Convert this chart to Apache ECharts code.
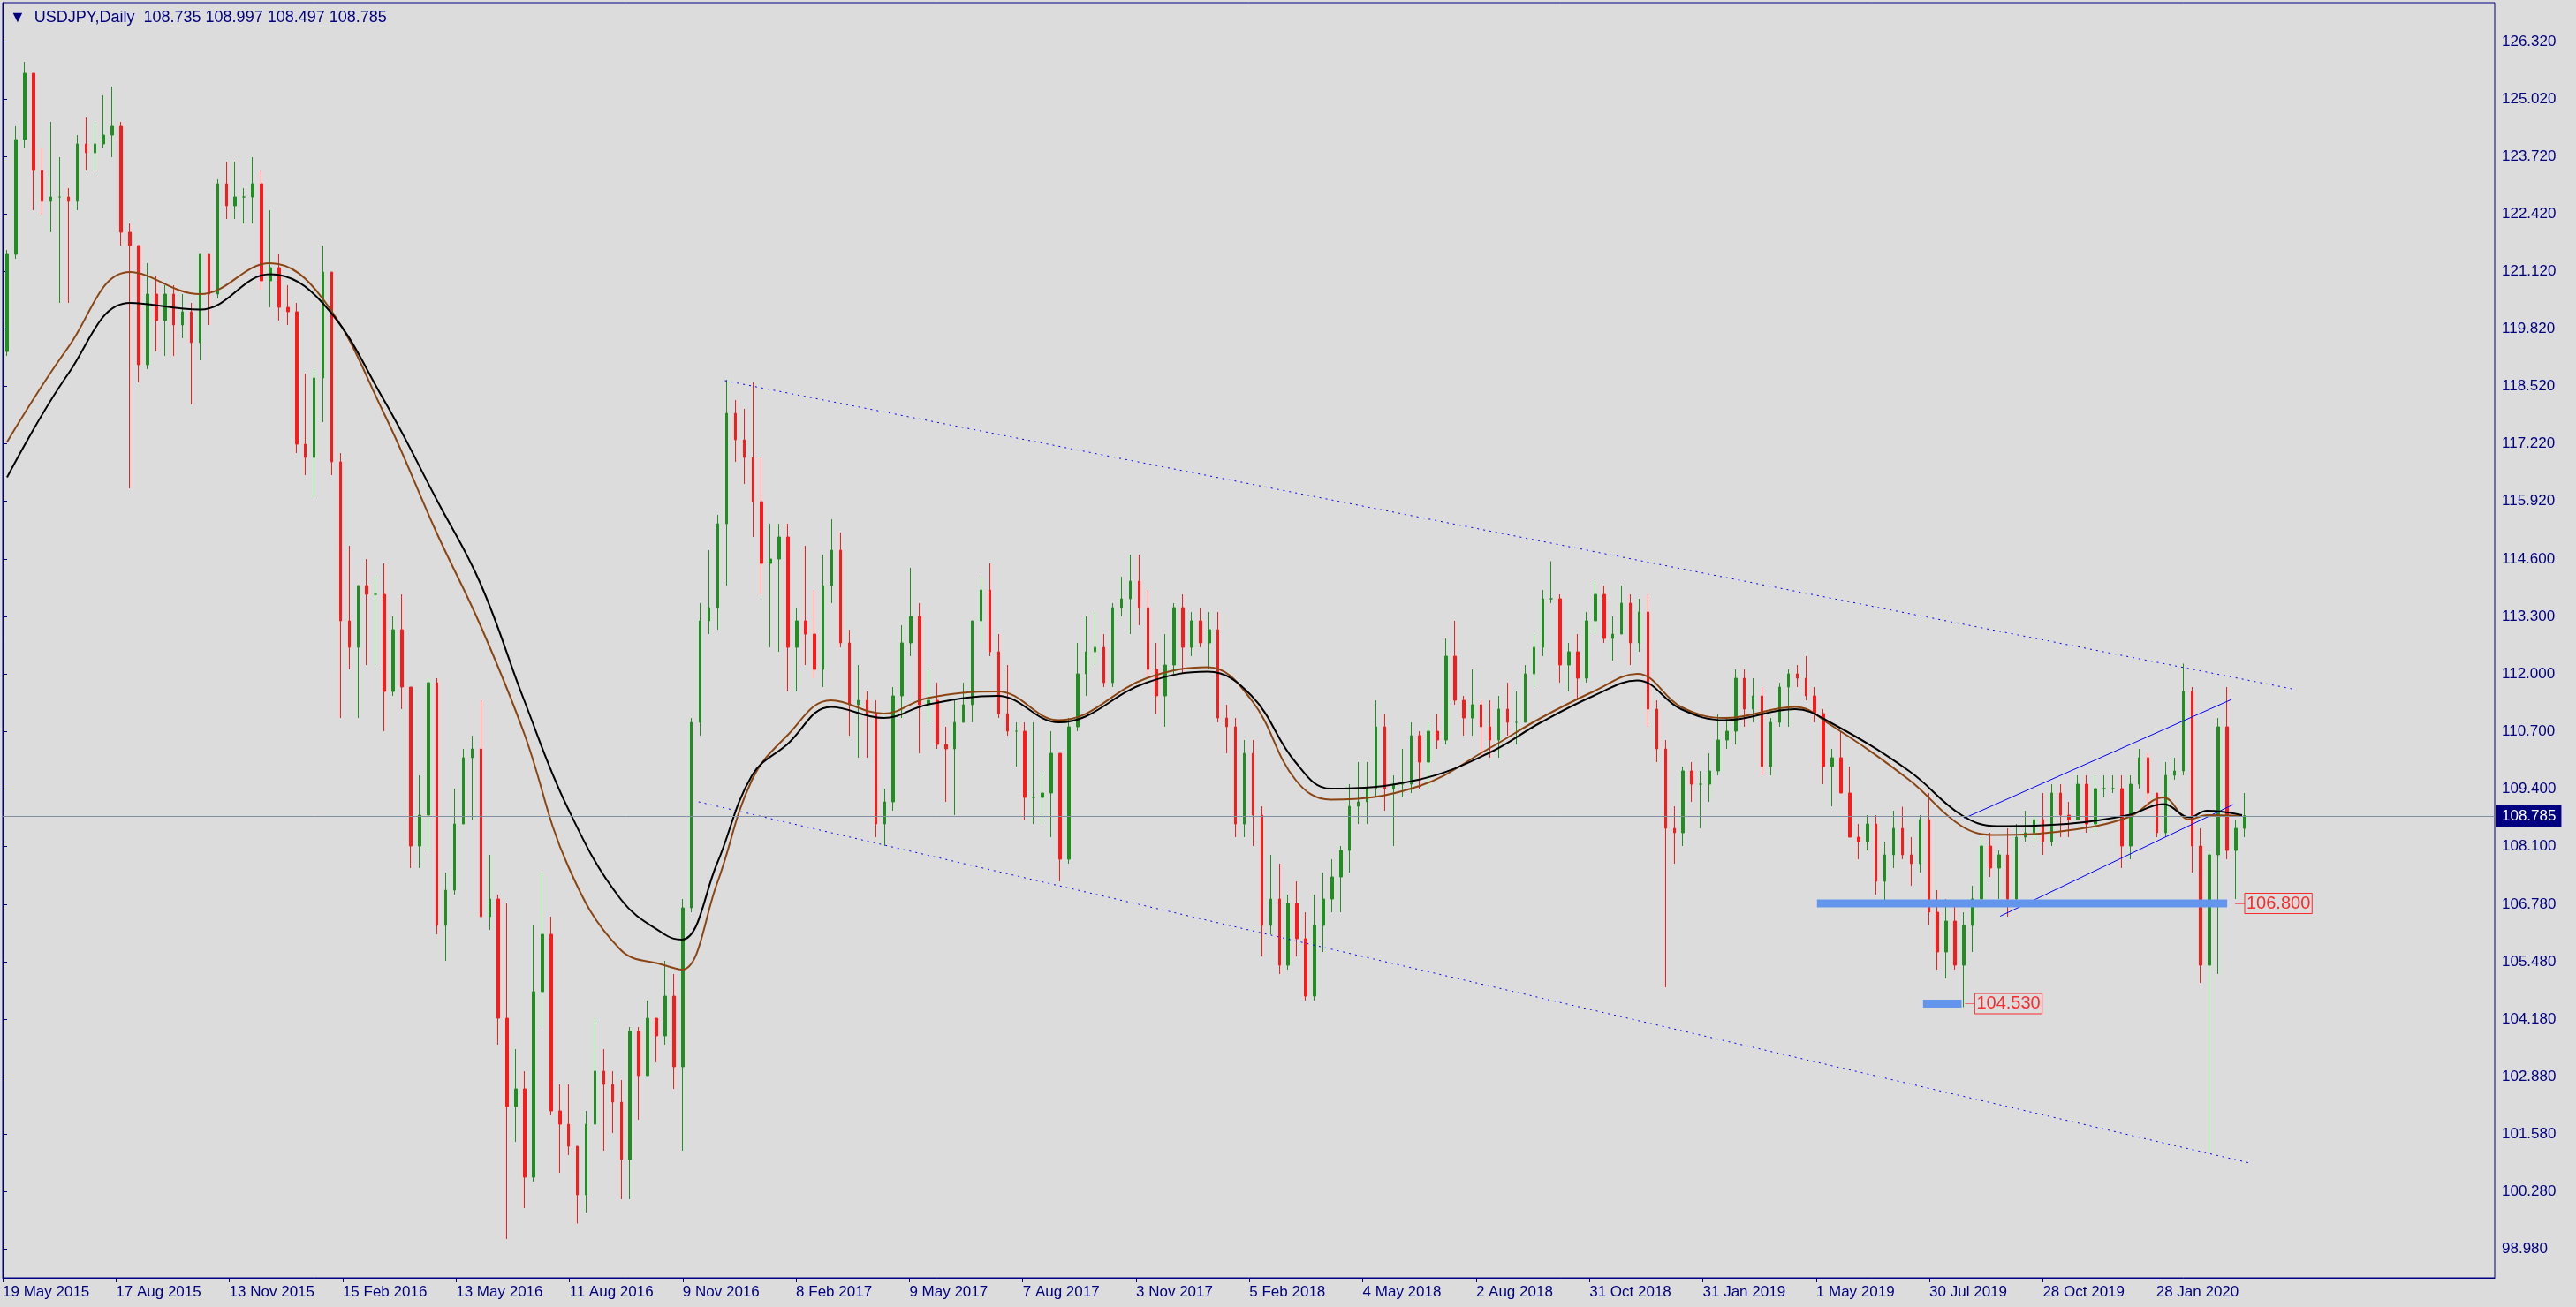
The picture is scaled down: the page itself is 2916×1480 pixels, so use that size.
<!DOCTYPE html>
<html>
<head>
<meta charset="utf-8">
<script src="https://cdn.jsdelivr.net/npm/echarts@6/dist/echarts.min.js"></script>
<style>
  html, body { margin: 0; padding: 0; background: #dcdcdc; }
  #chart { width: 2916px; height: 1480px; }
</style>
</head>
<body>
<div id="chart"></div>
<script>
// weekly candles: [open, close, low, high]
var candles = [
  [119.3,121.5,119.2,121.6],[121.5,124.1,121.4,124.4],[124.1,125.6,123.9,125.86],[125.6,123.4,122.5,125.0],
  [123.4,122.7,122.4,123.9],[122.7,122.8,122.0,124.5],[122.8,122.8,120.4,123.7],[122.8,122.7,120.4,123.0],
  [122.7,124.0,122.5,124.2],[124.0,123.8,123.4,124.6],[123.8,124.0,123.4,124.5],[124.0,124.2,123.9,125.1],
  [124.2,124.4,123.7,125.3],[124.4,122.0,121.7,124.5],[122.0,121.7,116.2,122.2],[121.7,119.0,118.6,121.7],
  [119.0,120.6,118.9,121.3],[120.6,120.0,119.3,121.0],[120.0,120.6,119.2,120.8],[120.6,119.9,119.2,120.8],
  [119.9,120.2,119.6,120.6],[120.2,119.5,118.1,120.4],[119.5,121.5,119.1,121.5],[121.5,120.6,119.9,121.5],
  [120.6,123.1,120.5,123.2],[123.1,122.6,122.3,123.6],[122.6,122.8,122.3,123.6],[122.8,122.8,122.2,123.0],
  [122.8,123.1,122.2,123.7],[123.1,120.9,120.7,123.4],[120.9,121.2,120.3,122.5],[121.2,120.3,120.0,121.5],
  [120.3,120.2,119.9,120.8],
  [120.2,117.2,117.0,120.4],[117.2,116.9,116.5,118.8],[116.9,118.7,116.0,118.9],[118.7,121.1,117.7,121.7],
  [121.1,116.8,116.5,121.0],[116.8,113.2,111.0,117.0],[113.2,112.6,112.1,114.9],[112.6,114.0,111.0,114.0],
  [114.0,113.8,112.2,114.6],[113.8,113.8,112.2,114.2],[113.8,111.6,110.7,114.5],[111.6,113.0,111.5,113.3],
  [113.0,111.7,111.2,113.8],[111.7,108.1,107.6,111.7],[108.1,108.8,107.6,109.7],[108.8,111.8,108.0,111.9],
  [111.8,106.3,106.1,111.9],[106.3,107.1,105.5,107.5],[107.1,108.6,107.0,109.4],[108.6,110.1,108.6,110.3],
  [110.1,110.3,108.7,110.6],[110.3,106.5,106.5,111.4],[106.5,106.9,106.2,107.9],[106.9,104.2,103.6,107.0],
  [104.2,102.2,99.2,106.8],[102.2,102.6,101.4,103.5],[102.6,100.6,99.9,103.0],[100.6,104.8,100.5,106.3],
  [104.8,106.1,104.0,107.5],[106.1,102.1,102.0,106.5],[102.1,101.8,100.7,102.7],[101.8,101.3,101.1,102.7],
  [101.3,100.2,99.55,101.3],[100.2,101.8,99.8,102.1],[101.8,103.0,101.8,104.2],[103.0,102.7,101.2,103.5],
  [102.7,102.3,101.6,103.0],[102.3,101.0,100.1,102.8],[101.0,103.9,100.1,104.0],[103.9,102.9,101.9,104.0],
  [102.9,104.2,102.9,104.6],[104.2,103.8,103.2,104.1],[103.8,104.7,103.6,105.5],[104.7,103.1,102.6,105.2],
  [103.1,106.7,101.2,106.9],[106.7,110.9,106.6,111.0],[110.9,113.2,110.6,113.6],[113.2,113.5,112.9,114.8],
  [113.5,115.4,113.0,115.6],[115.4,117.9,114.0,118.66],[117.9,117.3,116.8,118.2],[117.3,116.9,116.3,118.0],
  [116.9,115.9,115.1,118.6],[115.9,114.5,113.8,116.9],[114.5,114.6,112.6,115.4],[114.6,115.1,112.5,115.4],
  [115.1,112.6,111.6,115.4],[112.6,113.2,111.6,113.5],[113.2,112.9,112.2,114.9],[112.9,112.1,111.9,113.9],
  [112.1,114.0,111.7,114.7],[114.0,114.8,113.6,115.5],[114.8,112.7,112.6,115.2],[112.7,111.3,110.6,113.0],
  [111.3,111.4,110.1,112.2],[111.4,111.1,110.1,111.6],[111.1,108.6,108.3,111.4],[108.6,109.1,108.1,109.4],
  [109.1,111.5,108.9,111.7],[111.5,112.7,111.0,113.1],[112.7,113.3,112.4,114.4],[113.3,111.3,110.2,113.6],
  [111.3,111.4,110.9,112.1],[111.4,110.4,110.3,111.8],[110.4,110.3,109.1,110.8],[110.3,110.9,108.8,111.4],
  [110.9,111.3,110.9,111.8],[111.3,113.2,110.9,113.2],[113.2,113.9,112.7,114.2],[113.9,112.5,112.4,114.5],
  [112.5,111.1,111.0,112.9],[111.1,110.7,110.6,112.2],[110.7,110.7,109.9,110.9],[110.7,109.2,108.7,110.9],
  [109.2,109.2,108.6,110.9],[109.2,109.3,108.6,109.8],[109.3,110.2,108.3,110.7],[110.2,107.8,107.3,110.0],
  [107.8,110.8,107.7,111.0],[110.8,112.0,110.7,112.7],[112.0,112.5,111.5,113.3],[112.5,112.6,112.2,113.4],
  [112.6,111.8,111.7,112.9],[111.8,113.5,111.7,113.6],[113.5,113.7,113.3,114.2],[113.7,114.1,112.9,114.7],
  [114.1,113.5,113.1,114.7],[113.5,112.1,111.9,113.9],[112.1,111.5,111.1,112.7],[111.5,112.2,110.8,112.9],
  [112.2,113.5,112.0,113.6],[113.5,112.6,112.0,113.8],[112.6,113.2,112.4,113.4],[113.2,112.7,112.6,113.5],
  [112.7,113.0,112.1,113.4],[113.0,111.0,110.9,113.4],[111.0,110.8,110.2,111.3],[110.8,108.6,108.3,111.0],
  [108.6,110.2,108.3,110.5],[110.2,108.8,108.1,110.5],[108.8,106.3,105.6,109.0],[106.3,106.9,106.1,107.9],
  [106.9,105.4,105.2,107.7],[105.4,106.8,105.3,107.0],[106.8,106.0,105.6,107.3],[106.0,104.7,104.6,106.6],
  [104.7,106.3,104.6,107.0],[106.3,106.9,105.7,107.5],[106.9,107.4,106.6,107.8],[107.4,108.0,106.6,108.1],
  [108.0,109.0,107.5,109.5],[109.0,109.1,108.6,110.0],[109.1,109.4,108.6,110.0],[109.4,110.8,109.2,111.4],
  [110.8,109.4,108.9,111.1],[109.4,109.5,108.1,109.7],[109.5,109.5,109.2,110.3],[109.5,110.6,109.3,110.9],
  [110.6,110.0,109.4,110.7],[110.0,110.7,109.4,110.9],[110.7,110.5,110.3,111.1],[110.5,112.4,110.4,112.8],
  [112.4,111.4,111.3,113.2],[111.4,111.0,110.6,111.5],[111.0,111.3,110.6,112.1],[111.3,110.8,110.1,111.4],
  [110.8,110.5,110.1,111.4],[110.5,111.2,110.1,111.5],[111.2,110.9,110.6,111.8],[110.9,110.9,110.4,111.6],
  [110.9,112.0,110.9,112.2],[112.0,112.6,111.7,112.9],[112.6,113.7,112.4,113.9],[113.7,113.7,113.6,114.55],
  [113.7,112.2,111.8,113.8],[112.2,112.5,111.6,112.7],[112.5,111.9,111.4,112.9],[111.9,113.2,111.8,113.4],
  [113.2,113.8,112.9,114.1],[113.8,112.8,112.7,114.0],[112.8,112.9,112.3,113.3],[112.9,113.6,112.9,114.0],
  [113.6,112.7,112.2,113.8],[112.7,113.4,112.5,113.7],[113.4,111.2,110.8,113.8],[111.2,110.3,110.0,111.4],
  [110.3,108.5,104.9,110.5],[108.5,108.4,107.7,109.0],[108.4,109.8,108.1,109.9],[109.8,109.5,109.1,110.0],
  [109.5,109.5,108.5,109.8],[109.5,109.8,109.1,110.2],[109.8,110.5,109.7,111.1],[110.5,110.7,110.3,111.0],
  [110.7,111.9,110.4,112.1],[111.9,111.2,110.8,112.1],[111.2,111.5,110.9,111.9],[111.5,109.9,109.7,111.7],
  [109.9,110.9,109.7,111.0],[110.9,111.7,110.8,111.8],[111.7,112.0,110.8,112.1],[112.0,111.9,111.7,112.2],
  [111.9,111.5,111.4,112.4],[111.5,111.1,110.9,111.7],[111.1,109.9,109.5,111.2],[109.9,110.1,109.0,110.3],
  [110.1,109.3,109.3,110.7],[109.3,108.3,108.3,109.9],[108.3,108.2,107.8,108.6],[108.2,108.6,108.0,108.8],
  [108.6,107.3,107.0,108.8],[107.3,107.9,106.8,108.2],[107.9,108.5,107.6,108.9],[108.5,107.9,107.8,108.99],
  [107.9,107.7,107.2,108.3],[107.7,108.7,107.5,108.8],[108.7,106.6,106.3,109.3],[106.6,105.7,105.3,107.1],
  [105.7,106.4,105.1,106.9],[106.4,105.4,105.3,106.8],[105.4,106.3,104.45,106.6],[106.3,106.9,105.7,107.2],
  [106.9,108.1,106.8,108.3],[108.1,107.6,107.4,108.4],[107.6,107.9,106.9,108.0],[107.9,106.9,106.5,108.5],
  [106.9,108.3,106.8,108.6],[108.3,108.4,108.2,108.9],[108.4,108.7,108.2,108.8],[108.7,108.2,107.9,109.3],
  [108.2,109.3,108.1,109.5],[109.3,108.8,108.3,109.5],[108.8,108.7,108.3,109.1],[108.7,109.5,108.7,109.7],
  [109.5,108.6,108.4,109.7],[108.6,109.4,108.4,109.7],[109.4,109.4,109.2,109.7],[109.4,109.4,109.3,109.7],
  [109.4,108.1,107.6,109.7],
  [108.1,109.5,107.8,109.7],[109.5,110.1,109.4,110.3],[110.1,109.3,108.9,110.2],[109.3,108.4,108.3,109.3],
  [108.4,109.7,108.3,110.0],[109.7,109.8,109.6,110.1],[109.8,111.6,109.7,112.23],[111.6,108.1,107.5,111.7],
  [108.1,105.4,105.0,108.5],[105.4,107.9,101.18,108.0],[107.9,110.8,105.2,111.0],[110.8,108.0,107.8,111.7],
  [108.0,108.5,106.9,108.7],[108.5,108.785,108.3,109.3]
];

// moving averages: [candle index, value]
var maBlack = [
  [0,116.45],[7,118.8],[14,120.4],[22,120.25],[30,121.05],[36,120.4],[43,118.2],[49,115.95],[54,114.05],
  [59,111.4],[64,108.95],[70,106.9],[75,106.1],[77,105.98],[81,107.7],[85,109.7],[89,110.4],[94,111.25],
  [100,111.0],[105,111.3],[113,111.5],[120,110.9],[130,111.8],[137,112.05],[142,111.5],[147,110.0],
  [151,109.4],[161,109.6],[169,110.2],[175,110.9],[181,111.5],[186,111.85],[191,111.2],[196,110.95],
  [204,111.2],[208,110.9],[217,109.8],[223,108.8],[227,108.55],[235,108.6],[242,108.8],[246,109.05],
  [249,108.75],[251,108.9],[255,108.8]
];
var maBrown = [
  [0,117.25],[7,119.4],[14,121.1],[22,120.6],[30,121.3],[36,120.5],[43,117.9],[49,115.2],[54,113.1],
  [59,110.65],[64,107.65],[70,105.75],[75,105.4],[77,105.3],[81,107.25],[85,109.6],[89,110.6],[94,111.4],
  [100,111.1],[105,111.45],[113,111.6],[120,110.95],[130,111.9],[137,112.15],[142,111.4],[147,109.6],
  [151,109.15],[161,109.45],[169,110.3],[175,111.0],[181,111.6],[186,112.0],[191,111.25],[196,111.0],
  [204,111.25],[208,110.85],[217,109.6],[223,108.55],[227,108.35],[235,108.45],[242,108.75],[246,109.2],
  [249,108.7],[251,108.8],[255,108.78]
];

// trend lines: [candle index, price]
var upperDotted = [[81.9,118.64],[261.2,111.64]];
var lowerDotted = [[78.9,109.1],[255.9,100.92]];
var channelTop = [[223.3,108.73],[253.8,111.42]];
var channelBottom = [[227.4,106.51],[254.0,109.04]];
var support1 = [[206.5,106.8],[253.3,106.8]];
var support2 = [[218.6,104.53],[223.0,104.53]];
var levelTags = [[255.3,106.8,'106.800'],[224.5,104.53,'104.530']];
var lastPrice = 108.785;

var dateLabels = ['19 May 2015','17 Aug 2015','13 Nov 2015','15 Feb 2016','13 May 2016','11 Aug 2016',
  '9 Nov 2016','8 Feb 2017','9 May 2017','7 Aug 2017','3 Nov 2017','5 Feb 2018','4 May 2018','2 Aug 2018',
  '31 Oct 2018','31 Jan 2019','1 May 2019','30 Jul 2019','28 Oct 2019','28 Jan 2020'];
var priceTicks = [98.98, 100.28, 101.58, 102.88, 104.18, 105.48, 106.78, 108.1, 109.4, 110.7, 112.0,
  113.3, 114.6, 115.92, 117.22, 118.52, 119.82, 121.12, 122.42, 123.72, 125.02, 126.32];

var chart = echarts.init(document.getElementById('chart'));

var plotW = 2821;
var step = 2535 / (candles.length - 0.5);   // px per candle
var xMax = plotW / step;
var labelPos = dateLabels.map(function (d, i) { return +(i * 128.3 / step).toFixed(3); });
var labelMap = {};
labelPos.forEach(function (p, i) { labelMap[p] = dateLabels[i]; });

function shift(pts) { return pts.map(function (p) { return [p[0] + 0.5, p[1]]; }); }
function seg(name, pts, color, width, type) {
  return { name: name, type: 'line', xAxisIndex: 1, data: shift(pts), symbol: 'none', silent: true,
    lineStyle: { color: color, width: width, type: type || 'solid' }, z: 3 };
}

var font = 'Liberation Sans';
var cats = candles.map(function (c, i) { return i; });

chart.setOption({
  backgroundColor: '#dcdcdc',
  animation: false,
  title: {
    text: '▼  USDJPY,Daily  108.735 108.997 108.497 108.785',
    left: 6, top: 6,
    textStyle: { color: '#000080', fontSize: 18, fontWeight: 'normal', fontFamily: font }
  },
  grid: { left: 3, right: 92, top: 3, bottom: 33, show: true, borderColor: '#000080', borderWidth: 1 },
  xAxis: [{
    type: 'category', data: cats, show: false, boundaryGap: true,
    max: Math.round(xMax) - 1
  }, {
    type: 'value', min: 0, max: xMax, position: 'bottom',
    axisLine: { show: true, lineStyle: { color: '#000080' } },
    axisTick: { show: true, customValues: labelPos, length: 5, lineStyle: { color: '#000080' } },
    axisLabel: { customValues: labelPos, color: '#000080', fontSize: 17, fontFamily: font,
      align: 'left', margin: 8, formatter: function (v) { return labelMap[+v.toFixed(3)] || ''; } },
    splitLine: { show: false }
  }],
  yAxis: {
    type: 'value', position: 'right', min: 98.32, max: 127.2, scale: true,
    axisLine: { show: true, lineStyle: { color: '#000080' } },
    axisTick: { show: true, customValues: priceTicks, length: 5, lineStyle: { color: '#000080' } },
    axisLabel: { customValues: priceTicks, color: '#000080', fontSize: 17, fontFamily: font, margin: 8,
      formatter: function (v) { return v.toFixed(3); } },
    splitLine: { show: false }
  },
  series: [
    {
      name: 'USDJPY', type: 'candlestick', xAxisIndex: 0, data: candles, barWidth: 3, z: 2,
      itemStyle: { color: '#1f8f1f', color0: '#ff1a1a', borderColor: '#1f8f1f', borderColor0: '#ff1a1a', borderWidth: 1 },
      markLine: {
        silent: true, symbol: 'none',
        data: [{ yAxis: lastPrice }],
        lineStyle: { color: '#7f8fa0', width: 1, type: 'solid' },
        label: { position: 'end', distance: 2, formatter: lastPrice.toFixed(3), color: '#ffffff',
          backgroundColor: '#000080', padding: [4, 6, 3, 6], fontSize: 17, fontFamily: font }
      }
    },
    Object.assign(seg('MA brown', maBrown, '#8b4513', 2), { smooth: 0.4, z: 4 }),
    Object.assign(seg('MA black', maBlack, '#000000', 2), { smooth: 0.4, z: 4 }),
    seg('upper', upperDotted, '#0000ff', 1, [2, 5]),
    seg('lower', lowerDotted, '#0000ff', 1, [2, 5]),
    seg('chTop', channelTop, '#0000ff', 1),
    seg('chBottom', channelBottom, '#0000ff', 1),
    seg('sup1', support1, '#6495ed', 9),
    seg('sup2', support2, '#6495ed', 9),
    {
      type: 'scatter', xAxisIndex: 1, symbolSize: 0, silent: true, z: 5,
      data: levelTags.map(function (t) { return { value: [t[0] + 0.5, t[1]], name: t[2] }; }),
      label: { show: true, position: 'right', distance: 0, formatter: '{b}', color: '#ff0000',
        borderColor: '#ff0000', borderWidth: 1, padding: [2, 2, 1, 2], fontSize: 20, fontFamily: font }
    },
    {
      type: 'lines', coordinateSystem: 'cartesian2d', xAxisIndex: 1, silent: true, z: 5,
      data: levelTags.map(function (t) { return { coords: [[t[0] - 0.6, t[1]], [t[0] + 0.5, t[1]]] }; }),
      lineStyle: { color: '#ff0000', width: 1 }
    }
  ]
});
</script>
</body>
</html>
